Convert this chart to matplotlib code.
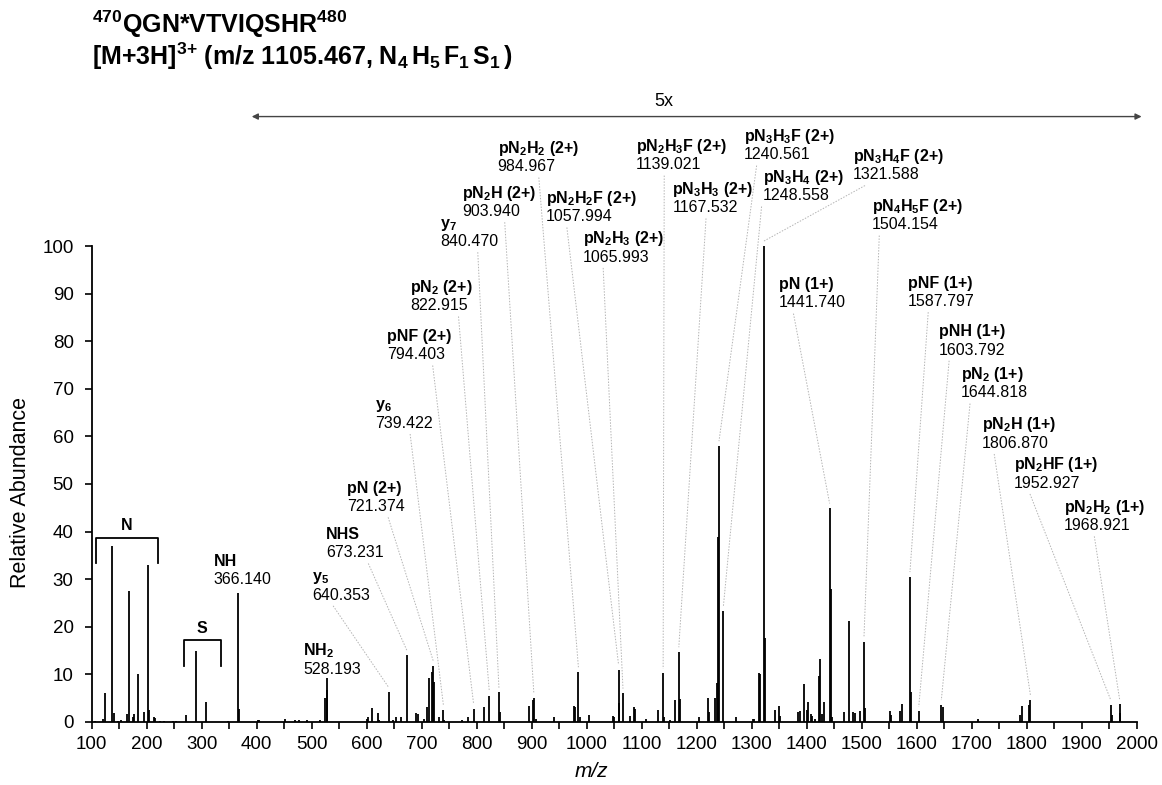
import matplotlib
matplotlib.use('Agg')
import matplotlib.pyplot as plt
from matplotlib.ticker import MultipleLocator

plt.rcParams['font.family'] = ['Liberation Sans', 'DejaVu Sans']
plt.rcParams['mathtext.fontset'] = 'custom'
plt.rcParams['mathtext.rm'] = 'Liberation Sans'
plt.rcParams['mathtext.it'] = 'Liberation Sans:italic'
plt.rcParams['mathtext.bf'] = 'Liberation Sans:bold'

# unlabelled peaks (m/z, relative abundance as drawn)
peak_mz = [106, 121, 125, 137, 141, 148, 154, 165, 168, 175, 177, 184, 195, 203,
           205, 214, 216, 224, 232, 247, 254, 271, 290, 308, 348, 367.5, 402, 404,
           451, 470, 477, 491, 516, 525, 527, 600, 603, 610, 620, 622, 648, 653,
           662, 690, 694, 704, 710, 713, 718, 723, 732, 741, 773, 785,
           814, 841.5, 896, 902, 908, 941, 977, 979, 987, 1004, 1048, 1050, 1059,
           1079, 1086, 1088, 1107, 1130, 1141, 1151, 1160, 1169, 1205, 1221, 1223,
           1233, 1237, 1239, 1271, 1303, 1305, 1313, 1315, 1324, 1342, 1350, 1352,
           1385, 1388, 1395, 1400, 1403, 1407, 1410, 1416, 1422, 1425, 1428, 1432,
           1444, 1446, 1468, 1477, 1484, 1487, 1497, 1506, 1551, 1553, 1570, 1573,
           1589.5, 1647, 1711, 1788, 1791, 1804, 1955, 1970.5]
peak_int = [0.2, 0.7, 6.0, 37.0, 1.9, 0.3, 0.5, 1.6, 27.5, 1.0, 1.7, 10.0, 2.0, 33.0,
            2.6, 1.0, 0.8, 0.3, 0.3, 0.3, 0.2, 1.5, 15.0, 4.1, 0.2, 2.8, 0.5, 0.5,
            0.7, 0.4, 0.5, 0.4, 0.4, 5.0, 6.7, 0.7, 1.0, 2.9, 1.9, 0.5, 0.5, 1.0,
            1.0, 1.9, 1.7, 0.7, 3.2, 9.3, 10.5, 8.5, 1.0, 0.5, 0.5, 1.0,
            3.1, 2.0, 3.4, 4.7, 0.7, 1.0, 3.4, 3.2, 1.0, 1.5, 1.2, 1.0, 4.0,
            1.3, 3.1, 2.8, 0.7, 2.6, 1.0, 0.5, 4.7, 4.8, 1.0, 5.1, 2.0,
            5.0, 8.1, 38.9, 1.0, 0.7, 0.7, 10.2, 10.0, 17.6, 2.5, 3.3, 1.2,
            2.0, 2.2, 8.0, 2.5, 4.2, 1.7, 1.2, 0.7, 9.7, 13.2, 1.7, 4.2,
            28.0, 1.0, 2.0, 21.3, 2.0, 1.8, 2.3, 2.9, 2.2, 1.5, 2.3, 3.8,
            6.2, 3.2, 0.7, 1.5, 3.4, 3.6, 1.5, 1.8]

# annotated ions
ion_mz = [366.140, 528.193, 640.353, 673.231, 721.374, 739.422, 794.403, 822.915,
          840.470, 903.940, 984.967, 1057.994, 1065.993, 1139.021, 1167.532,
          1240.561, 1248.558, 1321.588, 1504.154, 1441.740, 1587.797, 1603.792,
          1644.818, 1806.870, 1952.927, 1968.921]
ion_int = [27.0, 9.2, 6.2, 14.0, 11.7, 2.6, 2.8, 5.5, 6.2, 5.0, 10.5, 11.0, 6.0,
           10.2, 14.7, 58.0, 23.3, 100.0, 16.7, 44.9, 30.5, 2.2, 3.6, 4.6, 3.6, 3.8]
ion_names = [r'NH', r'NH$_\mathbf{2}$', r'y$_\mathbf{5}$', r'NHS', r'pN (2+)',
             r'y$_\mathbf{6}$', r'pNF (2+)', r'pN$_\mathbf{2}$ (2+)', r'y$_\mathbf{7}$',
             r'pN$_\mathbf{2}$H (2+)', r'pN$_\mathbf{2}$H$_\mathbf{2}$ (2+)',
             r'pN$_\mathbf{2}$H$_\mathbf{2}$F (2+)', r'pN$_\mathbf{2}$H$_\mathbf{3}$ (2+)',
             r'pN$_\mathbf{2}$H$_\mathbf{3}$F (2+)', r'pN$_\mathbf{3}$H$_\mathbf{3}$ (2+)',
             r'pN$_\mathbf{3}$H$_\mathbf{3}$F (2+)', r'pN$_\mathbf{3}$H$_\mathbf{4}$ (2+)',
             r'pN$_\mathbf{3}$H$_\mathbf{4}$F (2+)', r'pN$_\mathbf{4}$H$_\mathbf{5}$F (2+)',
             r'pN (1+)', r'pNF (1+)', r'pNH (1+)', r'pN$_\mathbf{2}$ (1+)',
             r'pN$_\mathbf{2}$H (1+)', r'pN$_\mathbf{2}$HF (1+)',
             r'pN$_\mathbf{2}$H$_\mathbf{2}$ (1+)']

# label layout: left edge of text (m/z), centre of number line, start of leader
label_x = [322, 485, 501, 526, 565, 615, 637, 679, 733, 773, 838, 926, 993, 1090,
           1156, 1286, 1321, 1484, 1518, 1350, 1584, 1641, 1680, 1719, 1777, 1867]
label_y = [30.2, 11.4, 27.0, 35.9, 45.6, 63.1, 77.5, 87.8, 101.3, 107.6, 117.0,
           106.5, 98.0, 117.4, 108.4, 119.5, 110.9, 115.3, 104.8, 88.4, 88.7, 78.5,
           69.5, 58.9, 50.5, 41.6]
leader_x = [None, None, 539, 603, 639, 679, 720, 767, 802, 851, 913, 964, 1030, 1141,
            1217, 1309, 1318, 1506, 1532, 1376, 1621, 1659, 1697, 1741, 1806, 1923]

# region brackets
n_range = (107, 221)
s_range = (267, 335)

fig = plt.figure(figsize=(11.62, 7.85), dpi=100)
ax = fig.add_axes([0.0789, 0.0803, 0.8993, 0.6063])

ax.vlines(peak_mz, 0, peak_int, color='black', lw=1.3, clip_on=False)
ax.vlines(ion_mz, 0, ion_int, color='black', lw=1.3, clip_on=False)

for mz, h, name, lx, ly, sx in zip(ion_mz, ion_int, ion_names, label_x, label_y, leader_x):
    ax.text(lx, ly - 1.3, f'{mz:.3f}', fontsize=11.5, ha='left', va='baseline',
            clip_on=False)
    ax.annotate(name, xy=(lx, ly - 1.3), xytext=(0, 13.2), textcoords='offset points',
                fontsize=11.5, fontweight='bold', ha='left', va='baseline',
                annotation_clip=False)
    if sx is not None:
        ax.plot([sx, mz], [ly - 2.6, h + 1.0], color='#b4b4b4', lw=0.7,
                ls=(0, (1.5, 1.5)), clip_on=False)

for (a, b), top, bot, lab in [(n_range, 38.7, 33.4, 'N'), (s_range, 17.2, 11.8, 'S')]:
    ax.plot([a, a, b, b], [bot, top, top, bot], color='black', lw=1.3, clip_on=False)
    ax.text((a + b) / 2, top + 2.5, lab, fontsize=11.5, fontweight='bold',
            ha='center', va='center')

ax.annotate('', xy=(391, 127.2), xytext=(2009, 127.2),
            arrowprops=dict(arrowstyle='<|-|>', color='#444444', lw=1.0,
                            mutation_scale=9, shrinkA=0, shrinkB=0),
            annotation_clip=False)
ax.text(1140, 130.4, '5x', fontsize=13, ha='center', va='center', clip_on=False)

ax.set_xlim(100, 2000)
ax.set_ylim(0, 100)
ax.xaxis.set_major_locator(MultipleLocator(100))
ax.xaxis.set_minor_locator(MultipleLocator(50))
ax.yaxis.set_major_locator(MultipleLocator(10))
ax.tick_params(axis='x', which='both', direction='out', length=5, width=1.2,
               labelsize=13.5, pad=5)
ax.tick_params(axis='y', which='both', direction='out', length=5, width=1.2,
               labelsize=13.5, pad=8)
for s in ['top', 'right']:
    ax.spines[s].set_visible(False)
for s in ['left', 'bottom']:
    ax.spines[s].set_linewidth(1.3)

fig.text(0.018, 0.373, 'Relative Abundance', rotation=90, fontsize=15.5,
         ha='center', va='center')
fig.text(0.509, 0.017, 'm/z', fontsize=15, style='italic', ha='center', va='center')

fig.text(0.079, 0.958, r'$^\mathbf{470}$QGN*VTVIQSHR$^\mathbf{480}$', fontsize=18,
         fontweight='bold', ha='left', va='baseline')
fig.text(0.079, 0.917,
         r'[M+3H]$^{\mathbf{3{+}}}$ (m/z 1105.467, '
         r'N$_\mathbf{4}\,$H$_\mathbf{5}\,$F$_\mathbf{1}\,$S$_\mathbf{1}\,$)',
         fontsize=18, fontweight='bold', ha='left', va='baseline')

fig.savefig('out.png', dpi=100)
